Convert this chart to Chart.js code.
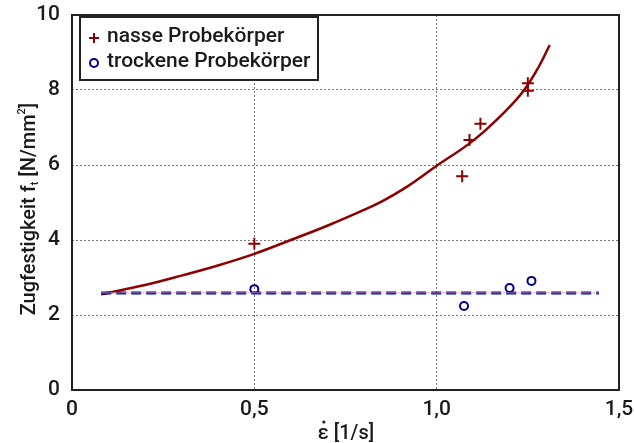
<!DOCTYPE html>
<html>
<head>
<meta charset="utf-8">
<script src="https://cdn.jsdelivr.net/npm/chart.js@4"></script>
<style>
  html, body { margin: 0; padding: 0; background: #fff; }
  #wrap { width: 634px; height: 443px; position: relative; }
</style>
</head>
<body>
<div id="wrap"><canvas id="chart"></canvas></div>
<script>
// Data
const wetX = [0.5, 1.07, 1.09, 1.12, 1.25, 1.25];
const wetY = [3.9, 5.7, 6.67, 7.1, 7.98, 8.18];
const dryX = [0.5, 1.075, 1.2, 1.26];
const dryY = [2.69, 2.24, 2.72, 2.91];

// fitted curve (wet) and mean line (dry)
const curveX = [0.08, 0.2, 0.3, 0.4, 0.5, 0.6, 0.7, 0.8, 0.85, 0.92, 1.0, 1.1, 1.19, 1.24, 1.28, 1.31];
const curveY = [2.55, 2.8, 3.05, 3.32, 3.63, 4.0, 4.38, 4.8, 5.03, 5.43, 5.98, 6.65, 7.45, 8.0, 8.62, 9.2];
const dryLineX = [0.08, 1.445];
const dryLineY = [2.59, 2.59];

const xTicks = [0, 0.5, 1.0, 1.5];
const yTicks = [0, 2, 4, 6, 8, 10];

const legendLabels = ['nasse Probekörper', 'trockene Probekörper'];

const red = '#8b0000';
const blue = '#00008b';
const font = 'Roboto, "Liberation Sans", Arial, sans-serif';
const txt = '#1a1a1a';

const pts = (xs, ys) => xs.map((x, i) => ({ x, y: ys[i] }));

// frame, legend box, axis titles
const decor = {
  id: 'decor',
  afterDraw(chart) {
    const { ctx, chartArea: a } = chart;
    ctx.save();
    ctx.strokeStyle = '#222';
    ctx.lineWidth = 2;
    ctx.strokeRect(a.left, a.top, a.right - a.left, a.bottom - a.top);

    // legend
    const lx = a.left + 8, ly = a.top + 2, lw = 238, lh = 63;
    ctx.fillStyle = '#fff';
    ctx.fillRect(lx, ly, lw, lh);
    ctx.strokeStyle = '#222';
    ctx.lineWidth = 2;
    ctx.strokeRect(lx, ly, lw, lh);
    ctx.font = '500 21px ' + font;
    ctx.textBaseline = 'middle';
    ctx.fillStyle = txt;
    ctx.fillText(legendLabels[0], lx + 27, ly + 20);
    ctx.fillText(legendLabels[1], lx + 27, ly + 45);
    // markers
    ctx.strokeStyle = red;
    ctx.lineWidth = 2;
    ctx.beginPath();
    ctx.moveTo(lx + 9, ly + 21); ctx.lineTo(lx + 19, ly + 21);
    ctx.moveTo(lx + 14, ly + 16); ctx.lineTo(lx + 14, ly + 26);
    ctx.stroke();
    ctx.strokeStyle = blue;
    ctx.beginPath();
    ctx.arc(lx + 14, ly + 46, 4, 0, Math.PI * 2);
    ctx.stroke();

    // x title: epsilon with dot
    ctx.font = '500 20px ' + font;
    ctx.fillStyle = txt;
    ctx.textBaseline = 'alphabetic';
    const xt = 'ε [1/s]';
    const xw = ctx.measureText(xt).width;
    const x0 = 346 - xw / 2;
    ctx.fillText(xt, x0, 439);
    const ew = ctx.measureText('ε').width;
    ctx.beginPath();
    ctx.arc(x0 + ew / 2 + 0.5, 422, 1.6, 0, Math.PI * 2);
    ctx.fill();

    // y title with subscript t and superscript 2
    ctx.translate(30, 209);
    ctx.rotate(-Math.PI / 2);
    ctx.textBaseline = 'middle';
    const parts = [['Zugfestigkeit f', 20, 0], ['t', 11, 5], [' [N/mm', 20, 0], ['2', 11, -8], [']', 20, 0]];
    let total = 0;
    parts.forEach(p => { ctx.font = '500 ' + p[1] + 'px ' + font; p.push(ctx.measureText(p[0]).width); total += p[3]; });
    let x = -total / 2;
    parts.forEach(p => {
      ctx.font = '500 ' + p[1] + 'px ' + font;
      ctx.fillText(p[0], x, p[2]);
      x += p[3];
    });
    ctx.restore();
  }
};

new Chart(document.getElementById('chart'), {
  type: 'scatter',
  data: {
    datasets: [
      {
        label: 'dry fit under', data: pts(dryLineX, dryLineY), showLine: true,
        borderColor: 'rgba(215,160,170,0.8)', borderWidth: 1, pointRadius: 0
      },
      {
        label: 'dry fit', data: pts(dryLineX, dryLineY), showLine: true,
        borderColor: blue, borderWidth: 3, borderDash: [10, 5], pointRadius: 0
      },
      {
        label: 'wet fit', data: pts(curveX, curveY), showLine: true,
        borderColor: red, borderWidth: 2.5, pointRadius: 0, tension: 0.4
      },
      {
        label: legendLabels[0], data: pts(wetX, wetY), pointStyle: 'cross',
        pointRadius: 6, borderColor: red, borderWidth: 2, backgroundColor: red
      },
      {
        label: legendLabels[1], data: pts(dryX, dryY), pointStyle: 'circle',
        pointRadius: 4, borderColor: blue, borderWidth: 2, backgroundColor: 'rgba(255,255,255,0)'
      }
    ]
  },
  options: {
    responsive: true,
    maintainAspectRatio: false,
    animation: false,
    events: [],
    layout: { padding: { top: 15, right: 15, left: 0, bottom: 0 } },
    plugins: { legend: { display: false }, tooltip: { enabled: false } },
    scales: {
      x: {
        type: 'linear', min: 0, max: 1.5,
        afterBuildTicks: s => { s.ticks = xTicks.map(v => ({ value: v })); },
        afterFit: s => { s.height = 53; s.paddingLeft = 0; s.paddingRight = 0; },
        ticks: {
          color: txt, font: { family: font, size: 21, weight: 500 }, padding: 7,
          callback: v => v === 0 ? '0' : v.toFixed(1).replace('.', ',')
        },
        grid: { color: '#777', drawTicks: false, lineWidth: 1 },
        border: { display: false, dash: [2, 2] }
      },
      y: {
        min: 0, max: 10,
        afterBuildTicks: s => { s.ticks = yTicks.map(v => ({ value: v })); },
        afterFit: s => { s.width = 72; s.paddingTop = 0; s.paddingBottom = 0; },
        ticks: { color: txt, font: { family: font, size: 21, weight: 500 }, padding: 12 },
        grid: { color: '#777', drawTicks: false, lineWidth: 1 },
        border: { display: false, dash: [2, 2] }
      }
    }
  },
  plugins: [decor]
});
</script>
</body>
</html>
